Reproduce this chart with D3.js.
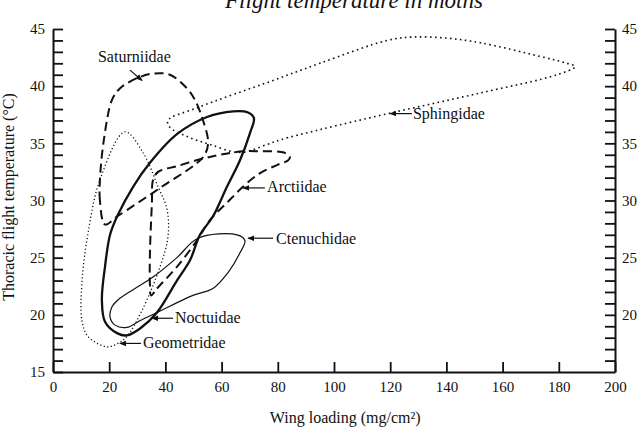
<!DOCTYPE html>
<html>
<head>
<meta charset="utf-8">
<script src="https://cdn.jsdelivr.net/npm/d3@7"></script>
<style>
  body { margin: 0; background: #fff; }
  text { font-family: "Liberation Serif", "Times New Roman", serif; fill: #111; }
</style>
</head>
<body>
<div id="chart"></div>
<script>

// outlines, [wing loading, thoracic temperature]
var sphingidae = [[40.9,37.0],[51.2,38.1],[78.3,40.5],[95.0,42.0],[118.9,44.0],[128.1,44.3],
  [140.2,44.2],[152.0,43.8],[173.3,42.6],[182.9,42.0],[185.8,41.7],[179.4,41.0],[152.0,39.4],
  [121.0,37.7],[95.0,36.2],[80.8,35.3],[76.2,34.9],[66.5,34.2],[55.9,34.9],[47.7,35.6],[41.6,36.4]];
var saturniidae = [[18.5,27.9],[16.7,30.0],[16.7,31.8],[18.1,35.3],[21.0,38.8],[23.8,39.8],
  [29.9,40.7],[35.6,41.1],[41.6,41.0],[47.7,39.8],[50.5,38.8],[53.4,37.0],[55.2,35.0],
  [53.4,33.8],[38.1,31.1],[22.8,28.6]];
var arctiidae = [[34.9,21.7],[37.0,22.3],[44.1,24.2],[51.2,26.5],[55.9,28.3],[61.9,29.8],
  [67.6,31.2],[73.7,32.4],[79.7,33.1],[83.6,33.5],[84.3,33.8],[82.2,34.2],[73.7,34.3],
  [67.6,34.3],[59.4,34.0],[52.3,33.6],[44.1,33.0],[37.4,32.5],[35.6,31.8],[35.2,29.8],
  [34.5,25.4],[34.5,22.6]];
var noctuidae = [[22.8,28.6],[28.5,31.2],[34.5,33.3],[44.1,35.8],[54.8,37.3],
  [64.1,37.8],[69.4,37.7],[71.5,37.2],[70.1,35.9],[66.5,33.5],[61.9,31.2],[56.9,28.6],
  [52.3,27.0],[48.8,24.8],[44.1,23.0],[37.0,20.2],[31.0,18.8],[26.3,18.2],[22.8,18.4],
  [18.5,19.4],[17.4,21.3],[18.5,24.2],[20.3,27.0]];
var ctenuchidae = [[51.6,26.7],[65.5,27.0],[68.3,26.5],[66.5,25.4],[62.3,23.7],[56.9,22.3],
  [49.8,21.7],[37.0,20.2],[31.0,19.5],[26.3,18.9],[22.1,19.1],[20.3,19.8],[21.0,20.7],
  [23.1,21.3],[28.5,22.2],[35.6,23.3],[44.1,25.0]];
var geometridae = [[25.6,36.0],[32.0,34.2],[37.4,31.2],[40.6,29.2],[40.9,26.8],[38.1,24.2],
  [31.7,20.4],[26.3,18.1],[23.1,17.5],[19.2,17.2],[12.5,18.1],[10.3,19.5],[10.3,22.8],
  [12.5,27.2],[16.7,31.8]];

var xTicks = [0, 20, 40, 60, 80, 100, 120, 140, 160, 180, 200];
var yTicksLeft = [15, 20, 25, 30, 35, 40, 45];
var yTicksRight = [20, 25, 30, 35, 40, 45];

// name, text start [x, y], arrow from [x, y] to [x, y]
var labels = [
  ["Saturniidae", [16.0, 42.1], [27.4, 41.4], [31.7, 40.5]],
  ["Sphingidae", [128.1, 37.1], [127.7, 37.6], [119.9, 37.6]],
  ["Arctiidae", [76.2, 30.7], [75.4, 31.1], [67.6, 31.1]],
  ["Ctenuchidae", [79.4, 26.2], [78.3, 26.7], [69.4, 26.7]],
  ["Noctuidae", [43.4, 19.3], [42.7, 19.7], [35.2, 19.7]],
  ["Geometridae", [32.0, 17.1], [31.3, 17.5], [23.8, 17.5]]
];

var margin = {top: 29, right: 28, bottom: 56, left: 53},
    width = 643 - margin.left - margin.right,
    height = 428 - margin.top - margin.bottom;

var root = d3.select("#chart")
  .append("svg")
    .attr("width", 643)
    .attr("height", 428);

root.append("defs").append("marker")
    .attr("id", "head")
    .attr("viewBox", "0 0 10 10")
    .attr("refX", 9).attr("refY", 5)
    .attr("markerWidth", 7).attr("markerHeight", 7)
    .attr("markerUnits", "userSpaceOnUse")
    .attr("orient", "auto")
  .append("path")
    .attr("d", "M0,1L10,5L0,9Z")
    .attr("fill", "#111");

var svg = root.append("g")
    .attr("transform", "translate(" + margin.left + "," + margin.top + ")");

var x = d3.scaleLinear().domain([0, 200]).range([0, width]);
var y = d3.scaleLinear().domain([15, 45]).range([height, 0]);

// title (cut at the top edge in the original)
root.append("text")
    .attr("x", 354).attr("y", 8)
    .attr("text-anchor", "middle")
    .style("font-size", "23px")
    .style("font-style", "italic")
    .text("Flight temperature in moths");

// axes: minor ticks every degree, pointing inward
function styleAxis(g) {
  g.select(".domain").attr("stroke", "#111").attr("stroke-width", 2);
  g.selectAll(".tick line").attr("stroke", "#111").attr("stroke-width", 1.8);
  g.selectAll("text").style("font-size", "15px").attr("fill", "#111")
    .style("font-family", "'Liberation Serif', serif");
}

svg.append("g")
    .call(d3.axisLeft(y).tickValues(d3.range(15, 46)).tickSizeInner(-10).tickSizeOuter(0).tickFormat(""))
    .call(styleAxis);
svg.append("g")
    .call(d3.axisLeft(y).tickValues(yTicksLeft).tickSize(0).tickPadding(8))
    .call(styleAxis)
    .call(function(g) { g.select(".domain").remove(); });

svg.append("g")
    .attr("transform", "translate(" + width + ",0)")
    .call(d3.axisRight(y).tickValues(d3.range(16, 46)).tickSizeInner(-10).tickSizeOuter(0).tickFormat(""))
    .call(styleAxis);
svg.append("g")
    .attr("transform", "translate(" + width + ",0)")
    .call(d3.axisRight(y).tickValues(yTicksRight).tickSize(0).tickPadding(7))
    .call(styleAxis)
    .call(function(g) { g.select(".domain").remove(); });

svg.append("g")
    .attr("transform", "translate(0," + height + ")")
    .call(d3.axisBottom(x).tickValues(xTicks).tickSizeInner(-10).tickSizeOuter(0).tickPadding(9))
    .call(styleAxis);

svg.append("text")
    .attr("x", x(104)).attr("y", height + 51)
    .attr("text-anchor", "middle")
    .style("font-size", "16px")
    .text("Wing loading (mg/cm²)");

svg.append("text")
    .attr("transform", "rotate(-90)")
    .attr("x", -168).attr("y", -39)
    .attr("text-anchor", "middle")
    .style("font-size", "16px")
    .text("Thoracic flight temperature (°C)");

// the six family outlines
var outline = d3.line()
    .x(function(d) { return x(d[0]); })
    .y(function(d) { return y(d[1]); })
    .curve(d3.curveCatmullRomClosed.alpha(0.5));

var families = [
  [sphingidae, 1.6, "1.6,3.4"],
  [geometridae, 1.3, "1.2,2.4"],
  [saturniidae, 2, "9,5"],
  [arctiidae, 2, "9,5"],
  [ctenuchidae, 1.2, null],
  [noctuidae, 2.3, null]
];

svg.append("g")
  .selectAll("path")
  .data(families)
  .enter()
  .append("path")
    .attr("d", function(d) { return outline(d[0]); })
    .attr("fill", "none")
    .attr("stroke", "#111")
    .attr("stroke-width", function(d) { return d[1]; })
    .attr("stroke-dasharray", function(d) { return d[2]; });

// labels with arrows
var lab = svg.append("g").selectAll("g").data(labels).enter().append("g");

lab.append("line")
    .attr("x1", function(d) { return x(d[2][0]); })
    .attr("y1", function(d) { return y(d[2][1]); })
    .attr("x2", function(d) { return x(d[3][0]); })
    .attr("y2", function(d) { return y(d[3][1]); })
    .attr("stroke", "#111")
    .attr("stroke-width", 1.2)
    .attr("marker-end", "url(#head)");

lab.append("text")
    .attr("x", function(d) { return x(d[1][0]); })
    .attr("y", function(d) { return y(d[1][1]); })
    .style("font-size", "16px")
    .text(function(d) { return d[0]; });

</script>
</body>
</html>
